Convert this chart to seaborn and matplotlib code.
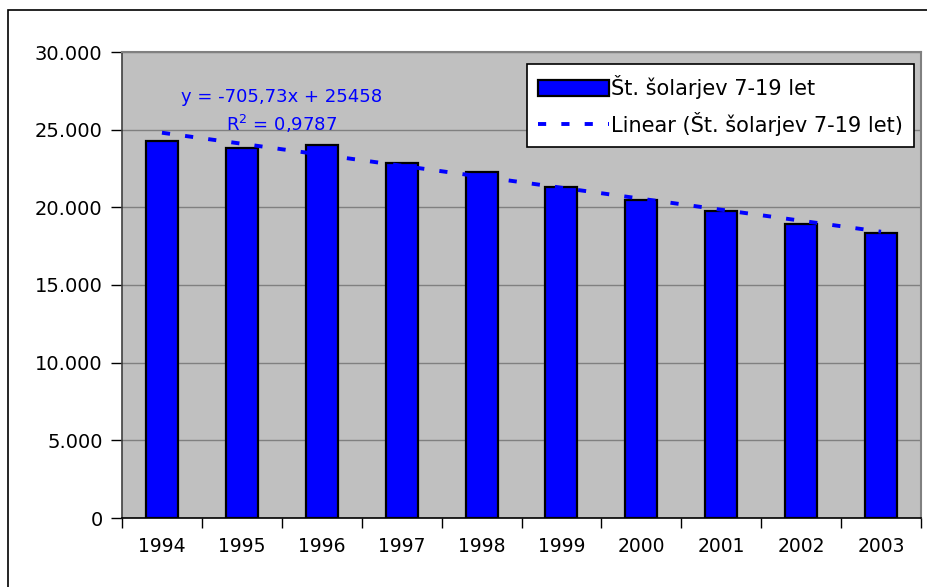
import matplotlib
matplotlib.use("Agg")
import matplotlib.pyplot as plt
import matplotlib.ticker as mticker
from matplotlib.patches import Rectangle
import numpy as np
import pandas as pd
import seaborn as sns

# data
years = ["1994", "1995", "1996", "1997", "1998", "1999", "2000", "2001", "2002", "2003"]
pupils = [24300, 23800, 24040, 22860, 22280, 21320, 20470, 19790, 18930, 18370]
series_name = "Št. šolarjev 7-19 let"
eq_text = "y = -705,73x + 25458"
r2_text = "R$^2$ = 0,9787"

df = pd.DataFrame({"leto": years, "st": pupils})

sns.set_style("white")
plt.rcParams["font.family"] = ["DejaVu Sans"]
plt.rcParams["text.color"] = "black"

fig = plt.figure(figsize=(9.27, 5.87), dpi=100)
ax = fig.add_axes([122 / 927, 1 - 518 / 587, (921 - 122) / 927, (518 - 52) / 587])
ax.set_facecolor("#C0C0C0")

sns.barplot(data=df, x="leto", y="st", color="#0000FF", width=0.4,
            edgecolor="black", linewidth=1.6, saturation=1, ax=ax,
            label=series_name, zorder=2)

# linear trend (Excel style)
xs = np.arange(len(pupils))
sns.regplot(x=xs, y=np.array(pupils), scatter=False, ci=None, truncate=True,
            ax=ax, color="#0000FF", label="Linear (" + series_name + ")",
            line_kws={"linestyle": (0, (2.1, 3.9)), "linewidth": 2.8, "zorder": 3})

ax.text(1.5, 27100, eq_text, color="#0000FF", fontsize=13, ha="center", va="center")
ax.text(1.5, 25350, r2_text, color="#0000FF", fontsize=13, ha="center", va="center")

ax.set_ylim(0, 30000)
ax.set_xlim(-0.5, len(years) - 0.5)
ax.yaxis.set_major_locator(mticker.MultipleLocator(5000))
ax.yaxis.set_major_formatter(mticker.FuncFormatter(lambda v, p: "{:,.0f}".format(v).replace(",", ".")))
ax.grid(axis="y", color="#808080", linewidth=1, zorder=0)
ax.set_axisbelow(True)

ax.set_xlabel("")
ax.set_ylabel("")
ax.set_xticks(np.arange(len(years)))
ax.set_xticklabels(years)
ax.set_xticks(np.arange(len(years) + 1) - 0.5, minor=True)
ax.tick_params(axis="x", which="major", length=0, pad=14, labelsize=13.5, labelcolor="black")
ax.tick_params(axis="x", which="minor", length=7, width=1, color="black", direction="out", bottom=True)
ax.tick_params(axis="y", length=8, width=1, color="black", direction="out", left=True,
               labelsize=14, pad=6, labelcolor="black")

for s in ["top", "right"]:
    ax.spines[s].set_color("#808080")
    ax.spines[s].set_linewidth(1.5)
ax.spines["left"].set_color("#404040")
ax.spines["left"].set_linewidth(1.2)
ax.spines["bottom"].set_color("black")
ax.spines["bottom"].set_linewidth(1.2)

h, l = ax.get_legend_handles_labels()
leg = ax.legend(h[::-1], l[::-1], loc="upper right", bbox_to_anchor=(0.9915, 0.975),
                fontsize=15, frameon=True, fancybox=False, edgecolor="black",
                facecolor="white", framealpha=1, handlelength=3.4,
                handleheight=0.8, handletextpad=0.1, borderpad=0.55, labelspacing=0.6,
                borderaxespad=0, labelcolor="black")
leg.get_frame().set_linewidth(1.2)

# outer chart border
fig.add_artist(Rectangle((8 / 927, -0.01), 1.0, 1 - 10 / 587 + 0.01,
                         transform=fig.transFigure, fill=False,
                         edgecolor="black", linewidth=1.2))

fig.savefig("out.png", dpi=100)
